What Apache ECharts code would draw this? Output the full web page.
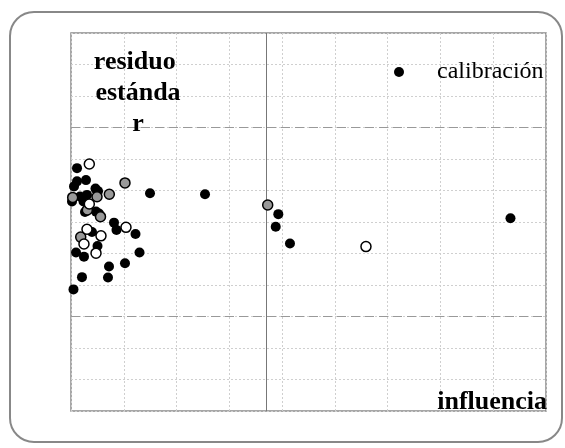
<!DOCTYPE html>
<html>
<head>
<meta charset="utf-8">
<script src="https://cdn.jsdelivr.net/npm/echarts@6/dist/echarts.min.js"></script>
<style>html,body{margin:0;padding:0;background:#fff}#c{width:565px;height:448px}</style>
</head>
<body>
<div id="c"></div>
<script>
// calibración (black filled)
var calX = [0.0019,0.0057,0.0114,0.0114,0.0171,0.0237,0.0284,0.0303,0.0265,0.0464,0.0512,0.0474,0.0531,0.0815,0.0862,0.1222,0.0398,0.0502,0.0095,0.0246,0.1298,0.1023,0.0720,0.0208,0.0701,0.0047,0.1497,0.2539,0.3928,0.3879,0.4149,0.8327];
var calY = [0.65,1.13,1.29,1.71,0.81,0.65,1.33,0.86,0.32,1.06,0.98,0.33,0.27,-0.02,-0.25,-0.38,-0.32,-0.76,-0.97,-1.10,-0.97,-1.31,-1.41,-1.75,-1.76,-2.14,0.91,0.88,0.25,-0.15,-0.68,0.12];
// grey filled points
var grayX = [0.0032,0.0309,0.0493,0.0559,0.0726,0.1023,0.0184,0.3727];
var grayY = [0.78,0.38,0.80,0.17,0.88,1.24,-0.48,0.54];
// open (white) points
var openX = [0.0347,0.0347,0.0303,0.0568,0.0246,0.0474,0.1042,0.5589];
var openY = [1.84,0.57,-0.23,-0.44,-0.70,-0.99,-0.17,-0.78];
// reference lines
var leverageLimit = 0.3657;
var residLimits = [3, -3];
var yLabel = 'residuo estándar';
var xLabel = 'influencia';
var legendName = 'calibración';

function pairs(xs, ys){ return xs.map(function(v,i){ return [v, ys[i]]; }); }
var serif = "'Liberation Serif','Times New Roman',serif";

var chart = echarts.init(document.getElementById('c'));
chart.setOption({
  animation: false,
  backgroundColor: '#fff',
  grid: { left: 71, top: 33, right: 19, bottom: 37, show: true, borderColor: '#8a8a8a', borderWidth: 1.5, backgroundColor: 'transparent' },
  legend: {
    data: [legendName], left: 389, top: 55, itemWidth: 10, itemHeight: 10, icon: 'circle',
    textStyle: { fontFamily: serif, fontSize: 24, color: '#000', padding: [0,0,0,28] }
  },
  xAxis: {
    type: 'value', min: 0, max: 0.9, interval: 0.1,
    axisLine: { show: false }, axisTick: { show: false }, axisLabel: { show: false },
    splitLine: { show: true, lineStyle: { color: '#cfcfcf', type: [2,2], width: 1 } }
  },
  yAxis: {
    type: 'value', min: -6, max: 6, interval: 1,
    axisLine: { show: false }, axisTick: { show: false }, axisLabel: { show: false },
    splitLine: { show: true, lineStyle: { color: '#cfcfcf', type: [2,2], width: 1 } }
  },
  series: [
    {
      name: legendName, type: 'scatter', symbolSize: 10, z: 4,
      itemStyle: { color: '#000', opacity: 1 },
      data: pairs(calX, calY),
      markLine: {
        silent: true, symbol: 'none', label: { show: false },
        data: [
          { xAxis: leverageLimit, lineStyle: { color: '#777', type: 'solid', width: 1 } },
          { yAxis: residLimits[0], lineStyle: { color: '#999', type: [9,5], width: 1.2 } },
          { yAxis: residLimits[1], lineStyle: { color: '#999', type: [9,5], width: 1.2 } }
        ]
      }
    },
    {
      name: 'gris', type: 'scatter', symbolSize: 10, z: 5,
      itemStyle: { color: '#999', borderColor: '#000', borderWidth: 1.5, opacity: 1 },
      data: pairs(grayX, grayY)
    },
    {
      name: 'blanco', type: 'scatter', symbolSize: 10, z: 6,
      itemStyle: { color: '#fff', borderColor: '#000', borderWidth: 1.5, opacity: 1 },
      data: pairs(openX, openY)
    }
  ],
  graphic: [
    { type: 'rect', z: -1, shape: { x: 10, y: 12, width: 552, height: 430, r: 24 }, style: { fill: 'none', stroke: '#888', lineWidth: 2 } },
    { type: 'text', z: 10, x: 138, y: 47, style: { text: yLabel, width: 102, overflow: 'break', lineHeight: 31, font: 'bold 26px ' + serif, fill: '#000', align: 'center', verticalAlign: 'top' } },
    { type: 'text', z: 10, x: 547, y: 415, style: { text: xLabel, font: 'bold 26px ' + serif, fill: '#000', align: 'right', verticalAlign: 'bottom' } }
  ]
});
</script>
</body>
</html>
